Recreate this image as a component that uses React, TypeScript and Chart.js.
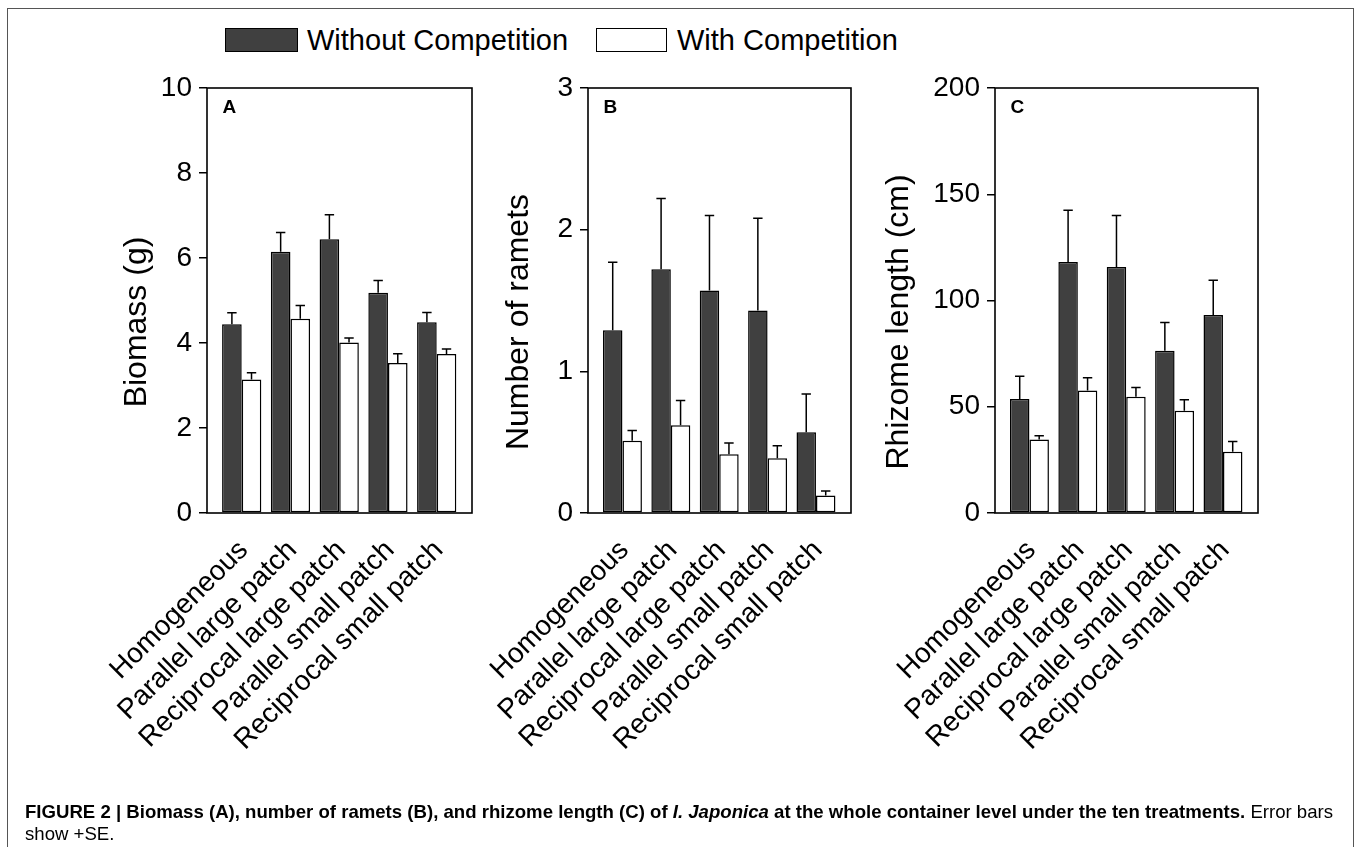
import React, { useEffect, useRef } from "react";
import { Chart, registerables } from "chart.js";

Chart.register(...registerables);

// ---------------- data ----------------
const categories = [
  "Homogeneous",
  "Parallel large patch",
  "Reciprocal large patch",
  "Parallel small patch",
  "Reciprocal small patch",
];
const seriesNames = ["Without Competition", "With Competition"];

// Panel A: Biomass (g)
const biomassWithout = [4.44, 6.15, 6.44, 5.18, 4.49];
const biomassWithoutSE = [0.27, 0.45, 0.58, 0.29, 0.23];
const biomassWith = [3.14, 4.57, 4.01, 3.53, 3.74];
const biomassWithSE = [0.16, 0.31, 0.11, 0.22, 0.12];

// Panel B: Number of ramets
const rametsWithout = [1.29, 1.72, 1.57, 1.43, 0.57];
const rametsWithoutSE = [0.48, 0.5, 0.53, 0.65, 0.27];
const rametsWith = [0.51, 0.62, 0.415, 0.387, 0.123];
const rametsWithSE = [0.073, 0.175, 0.08, 0.087, 0.033];

// Panel C: Rhizome length (cm)
const rhizomeWithout = [53.6, 118.1, 115.8, 76.4, 93.2];
const rhizomeWithoutSE = [10.7, 24.4, 24.2, 13.3, 16.3];
const rhizomeWith = [34.6, 57.7, 54.7, 48.1, 28.8];
const rhizomeWithSE = [1.7, 5.9, 4.4, 5.2, 4.8];

const panelLetters = ["A", "B", "C"];
const yTitles = ["Biomass (g)", "Number of ramets", "Rhizome length (cm)"];
const yMax = [10, 3, 200];
const yStep = [2, 1, 50];

// ---------------- layout (styling only) ----------------
const W = 1357;
const H = 847;
const PLOT_TOP = 88;
const PLOT_BOTTOM = 513;
const LABEL_BOTTOM = 770;
const TITLE_CENTER_Y = 322;
const panelGeom = [
  { titleLeft: 118, plotLeft: 207, plotRight: 472 },
  { titleLeft: 500, plotLeft: 588, plotRight: 851 },
  { titleLeft: 880, plotLeft: 995, plotRight: 1258 },
];

const DARK = "#404040";
const FONT = "'Liberation Sans', Arial, Helvetica, sans-serif";

const errorBarPlugin = {
  id: "errorBars",
  afterDatasetsDraw(chart: any, _args: any, opts: any) {
    const ctx = chart.ctx;
    const yScale = chart.scales.y;
    const seLists: number[][] = opts.se || [];
    ctx.save();
    ctx.strokeStyle = "#000";
    ctx.lineWidth = 1.5;
    chart.data.datasets.forEach((ds: any, di: number) => {
      const meta = chart.getDatasetMeta(di);
      const se = seLists[di] || [];
      meta.data.forEach((bar: any, i: number) => {
        const v = ds.data[i].y;
        const top = yScale.getPixelForValue(v + se[i]);
        ctx.beginPath();
        ctx.moveTo(bar.x, bar.y);
        ctx.lineTo(bar.x, top);
        ctx.moveTo(bar.x - 4.7, top);
        ctx.lineTo(bar.x + 4.7, top);
        ctx.stroke();
      });
    });
    // frame around the plot area
    const a = chart.chartArea;
    ctx.lineWidth = 1.6;
    ctx.strokeRect(a.left, a.top, a.right - a.left, a.bottom - a.top);
    // panel letter
    ctx.fillStyle = "#000";
    ctx.font = `bold 19px ${FONT}`;
    ctx.textAlign = "left";
    ctx.textBaseline = "alphabetic";
    ctx.fillText(opts.letter || "", a.left + 15.5, a.top + 24.5);
    // y-axis title (rotated)
    ctx.font = `32px ${FONT}`;
    ctx.textAlign = "center";
    ctx.textBaseline = "middle";
    ctx.translate(yScale.left + 19.2, TITLE_CENTER_Y);
    ctx.rotate(-Math.PI / 2);
    ctx.fillText(opts.title || "", 0, 0);
    ctx.restore();
  },
};

function Panel({ idx, without, withC, seWithout, seWith }: any) {
  const ref = useRef<HTMLCanvasElement | null>(null);
  useEffect(() => {
    const g = panelGeom[idx];
    const yAxisWidth = g.plotLeft - g.titleLeft;
    const chart = new Chart(ref.current as HTMLCanvasElement, {
      type: "bar",
      data: {
        datasets: [
          {
            label: seriesNames[0],
            data: without.map((v: number, i: number) => ({ x: i, y: v })),
            backgroundColor: DARK,
            borderColor: "#000",
            borderWidth: 1.5,
            borderSkipped: false,
          },
          {
            label: seriesNames[1],
            data: withC.map((v: number, i: number) => ({ x: i, y: v })),
            backgroundColor: "#fff",
            borderColor: "#000",
            borderWidth: 1.5,
            borderSkipped: false,
          },
        ],
      },
      options: {
        responsive: false,
        animation: false,
        devicePixelRatio: 1,
        categoryPercentage: 0.805,
        barPercentage: 1.0,
        layout: {
          padding: {
            left: g.titleLeft,
            top: PLOT_TOP,
            right: W - g.plotRight,
            bottom: H - LABEL_BOTTOM,
          },
        },
        plugins: {
          legend: { display: false },
          tooltip: { enabled: false },
          errorBars: {
            se: [seWithout, seWith],
            letter: panelLetters[idx],
            title: yTitles[idx],
          },
        } as any,
        scales: {
          x: {
            type: "linear",
            offset: false,
            min: -0.712,
            max: 4.724,
            grid: { display: false, offset: false },
            border: { display: false },
            afterBuildTicks: (scale: any) => {
              scale.ticks = categories.map((_, i) => ({ value: i }));
            },
            afterFit: (scale: any) => {
              scale.height = LABEL_BOTTOM - PLOT_BOTTOM;
              scale.paddingLeft = 0;
              scale.paddingRight = 0;
            },
            ticks: {
              autoSkip: false,
              minRotation: 45,
              maxRotation: 45,
              padding: 13,
              labelOffset: 2,
              color: "#000",
              font: { family: FONT, size: 28 },
              callback: (v: any) => categories[Math.round(Number(v))] ?? "",
            },
          },
          y: {
            type: "linear",
            min: 0,
            max: yMax[idx],
            grid: {
              display: true,
              drawOnChartArea: false,
              drawTicks: true,
              tickLength: 8,
              color: "#000",
              lineWidth: 1.5,
            },
            border: { display: false },
            afterFit: (scale: any) => {
              scale.width = yAxisWidth;
              scale.paddingTop = 0;
              scale.paddingBottom = 0;
            },
            ticks: {
              stepSize: yStep[idx],
              padding: 7,
              color: "#000",
              font: { family: FONT, size: 28 },
            },
            title: { display: false },
          },
        },
      },
      plugins: [errorBarPlugin],
    } as any);
    return () => chart.destroy();
  }, []);
  return (
    <canvas
      ref={ref}
      width={W}
      height={H}
      style={{ position: "absolute", left: 0, top: 0, width: W, height: H }}
    />
  );
}

export default function App() {
  useEffect(() => {
    document.body.style.margin = "0";
  }, []);
  const legendText: React.CSSProperties = {
    position: "absolute",
    top: 22,
    fontSize: 29,
    lineHeight: "36px",
    color: "#000",
    whiteSpace: "nowrap",
  };
  const box: React.CSSProperties = {
    position: "absolute",
    top: 28,
    height: 24,
    boxSizing: "border-box",
    border: "1.5px solid #000",
  };
  return (
    <div
      style={{
        position: "relative",
        width: W,
        height: H,
        overflow: "hidden",
        background: "#fff",
        fontFamily: FONT,
      }}
    >
      <div
        style={{
          position: "absolute",
          left: 7,
          top: 8,
          width: 1347,
          height: 900,
          boxSizing: "border-box",
          border: "1.5px solid #555",
        }}
      />
      <div style={{ ...box, left: 225, width: 73, background: DARK }} />
      <div style={{ ...legendText, left: 307 }}>{seriesNames[0]}</div>
      <div style={{ ...box, left: 596, width: 71, background: "#fff" }} />
      <div style={{ ...legendText, left: 677 }}>{seriesNames[1]}</div>

      <Panel idx={0} without={biomassWithout} withC={biomassWith} seWithout={biomassWithoutSE} seWith={biomassWithSE} />
      <Panel idx={1} without={rametsWithout} withC={rametsWith} seWithout={rametsWithoutSE} seWith={rametsWithSE} />
      <Panel idx={2} without={rhizomeWithout} withC={rhizomeWith} seWithout={rhizomeWithoutSE} seWith={rhizomeWithSE} />

      <div
        style={{
          position: "absolute",
          left: 25,
          top: 801,
          fontSize: 18.6,
          lineHeight: "22px",
          color: "#000",
          whiteSpace: "nowrap",
        }}
      >
        <b>
          FIGURE 2 | Biomass (A), number of ramets (B), and rhizome length (C) of <i>I. Japonica</i> at the
          whole container level under the ten treatments.
        </b>{" "}
        Error bars
        <br />
        show +SE.
      </div>
    </div>
  );
}
